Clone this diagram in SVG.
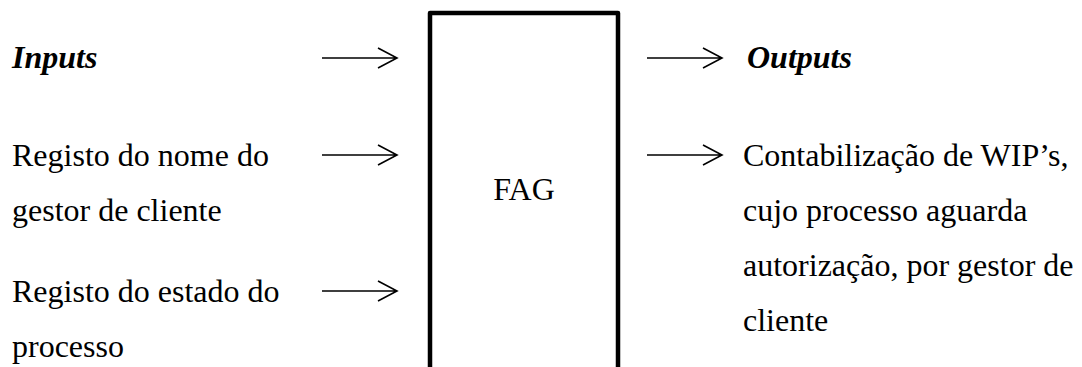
<svg xmlns="http://www.w3.org/2000/svg" width="1082" height="367" viewBox="0 0 1082 367">
  <style>
    text { font-family: "Liberation Serif", "Times New Roman", serif; font-size: 32px; fill: #000; }
    .head { font-weight: bold; font-style: italic; }
    .box { fill: #fff; stroke: #000; stroke-width: 4.5; stroke-linejoin: round; }
    .arrow { fill: none; stroke: #000; stroke-width: 1.6; }
  </style>
  <defs>
    <!-- open chevron arrowhead -->
    <path id="arw" class="arrow" d="M0 0 H75 M56 -10 L75 0 L56 10"/>
  </defs>
  <rect width="1082" height="367" fill="#fff"/>

  <g id="inputs-title"><text class="head" x="12" y="68">Inputs</text></g>
  <g id="input-1">
    <text x="12" y="166">Registo do nome do</text>
    <text x="12" y="221">gestor de cliente</text>
  </g>
  <g id="input-2">
    <text x="12" y="302">Registo do estado do</text>
    <text x="12" y="357">processo</text>
  </g>

  <g id="fag">
    <rect class="box" x="430" y="13" width="188" height="380"/>
    <text x="524" y="200" text-anchor="middle">FAG</text>
  </g>

  <g id="outputs-title"><text class="head" x="747" y="68">Outputs</text></g>
  <g id="output-1">
    <text x="743" y="166">Contabilização de WIP’s,</text>
    <text x="743" y="221">cujo processo aguarda</text>
    <text x="743" y="276">autorização, por gestor de</text>
    <text x="743" y="331">cliente</text>
  </g>

  <g id="connectors">
    <use href="#arw" x="322" y="58"/>
    <use href="#arw" x="322" y="155"/>
    <use href="#arw" x="322" y="291"/>
    <use href="#arw" x="647" y="58"/>
    <use href="#arw" x="647" y="155"/>
  </g>
</svg>
